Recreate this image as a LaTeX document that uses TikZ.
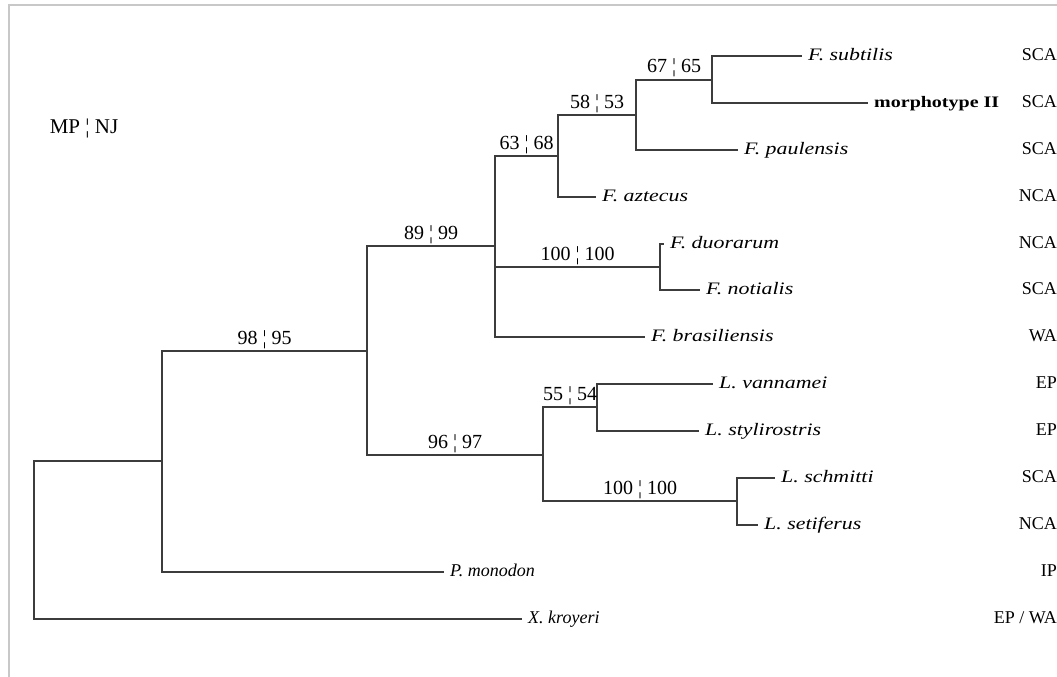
\documentclass[tikz,border=0pt]{standalone}
\usepackage{fontspec}
\setmainfont{Liberation Serif}
\newfontfamily\widefont[FakeStretch=1.25]{Liberation Serif}
\definecolor{treegray}{RGB}{60,60,60}
\definecolor{framegray}{RGB}{200,200,200}

\begin{document}
\begin{tikzpicture}[x=1pt,y=-1pt,
  branch/.style={draw=treegray, line width=1.2pt},
  leaf/.style={anchor=west, inner xsep=6pt, inner ysep=0pt, text height=11pt, text depth=3pt,
    font=\fontsize{17.5}{20}\selectfont\widefont\itshape},
  leafplain/.style={leaf, font=\fontsize{18}{20}\selectfont\itshape},
  region/.style={anchor=east, inner sep=0pt, text height=11pt, text depth=3pt,
    font=\fontsize{18}{20}\selectfont},
  boot/.style={anchor=base, yshift=7pt, inner sep=0pt, font=\fontsize{20}{24}\selectfont}]
  \useasboundingbox (0,0) rectangle (1057,677);
  \draw[framegray, line width=2pt] (9,677) -- (9,5) -- (1057,5);

  \node[anchor=base, inner sep=0pt, font=\fontsize{21}{24}\selectfont] (method) at (84,133) {MP ¦ NJ};

  % tips
  \foreach \n/\x/\y/\t in {subtilis/802/56/F. subtilis, paulensis/738/150/F. paulensis,
      aztecus/596/197/F. aztecus, duorarum/664/244/F. duorarum, notialis/700/290/F. notialis,
      brasiliensis/645/337/F. brasiliensis, vannamei/713/384/L. vannamei,
      stylirostris/699/431/L. stylirostris, schmitti/775/478/L. schmitti,
      setiferus/758/525/L. setiferus}
    \node[leaf] (\n) at (\x,\y) {\t};
  \node[leaf, font=\fontsize{16}{18}\selectfont\widefont\bfseries] (morph) at (868,103) {morphotype II};
  \node[leafplain] (monodon) at (444,572) {P. monodon};
  \node[leafplain] (kroyeri) at (522,619) {X. kroyeri};

  % regions
  \foreach \n/\y/\r in {1/56/SCA, 2/103/SCA, 3/150/SCA, 4/197/NCA, 5/244/NCA, 6/290/SCA, 7/337/WA,
      8/384/EP, 9/431/EP, 10/478/SCA, 11/525/NCA, 12/572/IP, 13/619/{EP / WA}}
    \node[region] (reg\n) at (1057,\y) {\r};

  % internal nodes
  \coordinate (nSub) at (712,80);
  \coordinate (nPaul) at (636,115);
  \coordinate (nAzt) at (558,156);
  \coordinate (nDuo) at (660,267);
  \coordinate (nFen) at (495,246);
  \coordinate (nVan) at (597,407);
  \coordinate (nSch) at (737,501);
  \coordinate (nLit) at (543,455);
  \coordinate (nPen) at (367,351);
  \coordinate (nPm) at (162,461);
  \coordinate (nRoot) at (34,540);

  \draw[branch] (nSub) |- (subtilis.west) (nSub) |- (morph.west);
  \draw[branch] (nPaul) |- (nSub) node[boot, pos=0.75] {67 ¦ 65};
  \draw[branch] (nPaul) |- (paulensis.west);
  \draw[branch] (nAzt) |- (nPaul) node[boot, pos=0.75] {58 ¦ 53};
  \draw[branch] (nAzt) |- (aztecus.west);
  \draw[branch] (nDuo) |- (duorarum.west) (nDuo) |- (notialis.west);
  \draw[branch] (nFen) |- (nAzt) node[boot, pos=0.75] {63 ¦ 68};
  \draw[branch] (nFen) |- (nDuo) node[boot, pos=0.75] {100 ¦ 100};
  \draw[branch] (nFen) |- (brasiliensis.west);
  \draw[branch] (nVan) |- (vannamei.west) (nVan) |- (stylirostris.west);
  \draw[branch] (nSch) |- (schmitti.west) (nSch) |- (setiferus.west);
  \draw[branch] (nLit) |- (nVan) node[boot, pos=0.75] {55 ¦ 54};
  \draw[branch] (nLit) |- (nSch) node[boot, pos=0.75] {100 ¦ 100};
  \draw[branch] (nPen) |- (nFen) node[boot, pos=0.75] {89 ¦ 99};
  \draw[branch] (nPen) |- (nLit) node[boot, pos=0.75] {96 ¦ 97};
  \draw[branch] (nPm) |- (nPen) node[boot, pos=0.75] {98 ¦ 95};
  \draw[branch] (nPm) |- (monodon.west);
  \draw[branch] (nRoot) |- (nPm) (nRoot) |- (kroyeri.west);
\end{tikzpicture}
\end{document}
